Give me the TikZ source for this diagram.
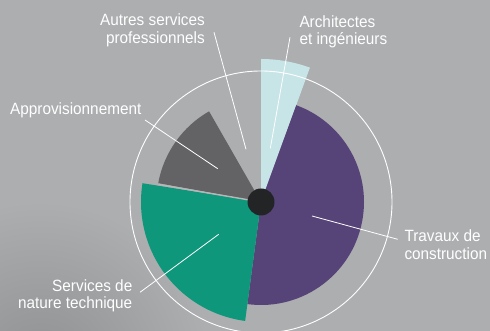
\documentclass[tikz,border=0pt]{standalone}
\usepackage{fontspec}
\setmainfont{Liberation Sans}[FakeStretch=0.94]
\definecolor{bg}{HTML}{ACAEB0}
\definecolor{bgdark}{HTML}{8E9092}
\definecolor{lblue}{HTML}{C7E4E7}
\definecolor{purp}{HTML}{564479}
\definecolor{tealw}{HTML}{0F977C}
\definecolor{dgray}{HTML}{636365}
\definecolor{gapc}{HTML}{B6B7B8}
\definecolor{dotc}{HTML}{232426}
\tikzset{
  lab/.style={text=white, inner sep=0pt, font=\fontsize{16.3}{17.5}\selectfont},
  leader/.style={draw=white, line width=0.8pt},
  ring/.style={draw=white, line width=0.9pt},
}
\begin{document}
\begin{tikzpicture}[x=1pt,y=1pt]
\useasboundingbox (0,0) rectangle (490,331);
\fill[bg] (0,0) rectangle (490,331);
\begin{scope}
\clip (0,0) rectangle (490,331);
\shade[inner color=bgdark, outer color=bg] (40,-40) circle (170);
\end{scope}
\coordinate (C) at (261,129);
% wedges
\fill[lblue] (C) -- ++(70:143) arc[start angle=70,end angle=90,radius=143] -- cycle;
\fill[purp] (C) -- ++(-97.6:103) arc[start angle=-97.6,end angle=70,radius=103] -- cycle;
\fill[tealw] (C) -- ++(171:120) arc[start angle=171,end angle=262.4,radius=120] -- cycle;
\fill[dgray] (C) -- ++(119.8:104.5) arc[start angle=119.8,end angle=169.6,radius=104.5] -- cycle;
\draw[gapc, line width=1.4pt] (C) -- ++(170.3:104);
\draw[ring] (C) circle (131);
\fill[dotc] (C) circle (13.5);
% labels (base = baseline of last line)
\node[lab, anchor=base west] (appro) at (10,216.7) {Approvisionnement};
\node[lab, align=right, anchor=base east] (serv) at (132.5,22) {Services de\\nature technique};
\node[lab, align=left, anchor=base west] (trav) at (404.3,71.7) {Travaux de\\construction};
\node[lab, align=right, anchor=base east] (autres) at (205,287.7) {Autres services\\professionnels};
\node[lab, align=left, anchor=base west] (arch) at (299.3,286) {Architectes\\et ingénieurs};
% leader ends
\coordinate (autres-a) at (214,298.7);
\coordinate (autres-b) at (246,181.7);
\coordinate (arch-a) at (290,293.7);
\coordinate (arch-b) at (270.3,182.7);
\coordinate (appro-a) at (145,211);
\coordinate (appro-b) at (217.7,162.3);
\coordinate (serv-a) at (140,38.7);
\coordinate (serv-b) at (218.7,96.7);
\coordinate (trav-a) at (397.7,91.7);
\coordinate (trav-b) at (312,115);
\draw[leader] (autres-a) -- (autres-b);
\draw[leader] (arch-a) -- (arch-b);
\draw[leader] (appro-a) -- (appro-b);
\draw[leader] (serv-a) -- (serv-b);
\draw[leader] (trav-a) -- (trav-b);
\end{tikzpicture}
\end{document}
